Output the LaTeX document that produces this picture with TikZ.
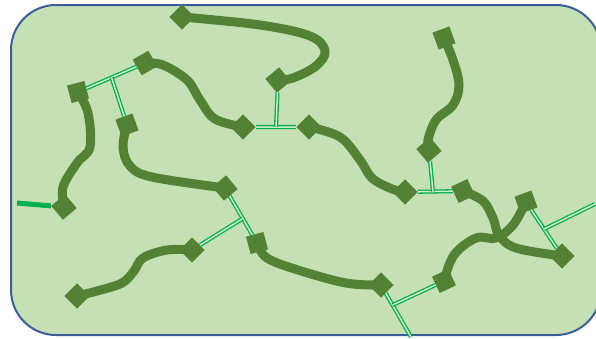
\documentclass[tikz,border=0pt]{standalone}
\usetikzlibrary{positioning, calc}
\definecolor{gelbg}{HTML}{C5E0B4}
\definecolor{chaingreen}{HTML}{548235}
\definecolor{linkgreen}{HTML}{00B050}
\definecolor{linkpale}{HTML}{D5EDC8}
\definecolor{edgeblue}{HTML}{3B5E9A}
\tikzset{
  bead/.style={rectangle, fill=chaingreen, minimum size=18pt, inner sep=0pt},
  chain/.style={draw=chaingreen, line width=9pt},
  xlink/.style={draw=linkgreen, double=linkpale, double distance=1.5pt, line width=1.3pt},
}

\begin{document}
\begin{tikzpicture}[x=1pt, y=-1pt]
  \useasboundingbox (0,0) rectangle (596,338);
  \draw[edgeblue, fill=gelbg, line width=2pt, rounded corners=45pt] (11,5) rectangle (601,335);

  % chain ends
  \node[bead, rotate=45] (a1) at (182,17) {};
  \node[bead, rotate=40] (a2) at (278,80) {};
  \node[bead, rotate=30] (b1) at (145,63) {};
  \node[bead, rotate=45] (b2) at (243,127) {};
  \node[bead, rotate=15] (c1) at (78,92) {};
  \node[bead, rotate=40] (c2) at (64,207) {};
  \node[bead, rotate=20] (d1) at (127,125) {};
  \node[bead, rotate=40] (d2) at (225,188) {};
  \node[bead, rotate=45] (e1) at (309,127) {};
  \node[bead, rotate=45] (e2) at (405,192) {};
  \node[bead, rotate=20] (f1) at (444,38) {};
  \node[bead, rotate=40] (f2) at (429,150) {};
  \node[bead, rotate=25] (g1) at (463,191) {};
  \node[bead, rotate=45] (g2) at (562,256) {};
  \node[bead, rotate=20] (h1) at (526,202) {};
  \node[bead, rotate=25] (h2) at (444,281) {};
  \node[bead, rotate=15] (i1) at (257,243) {};
  \node[bead, rotate=45] (i2) at (381,285) {};
  \node[bead, rotate=45] (j1) at (192,250) {};
  \node[bead, rotate=45] (j2) at (77,296) {};
  \coordinate (tip5) at (411,337);
  \coordinate (tip6) at (595,204);
  \coordinate (stub) at (17,203);

  % chains
  \draw[chain] plot[smooth, tension=0.6] coordinates {(a1.center) (260,25) (310,36) (325,51) (316,66) (293,78) (a2.center)};
  \draw[chain] plot[smooth, tension=0.6] coordinates {(b1.center) (163,65) (187,80) (200,100) (215,119) (b2.center)};
  \draw[chain] plot[smooth, tension=0.6] coordinates {(c1.center) (88,113) (90,147) (77,163) (63,187) (c2.center)};
  \draw[chain] plot[smooth, tension=0.6] coordinates {(d1.center) (123,147) (130,166) (152,177) (d2.center)};
  \draw[chain] plot[smooth, tension=0.6] coordinates {(e1.center) (340,137) (360,160) (372,178) (392,189) (e2.center)};
  \draw[chain] plot[smooth, tension=0.6] coordinates {(f1.center) (453,60) (459,85) (453,105) (436,120) (428,140) (f2.center)};
  \draw[chain] plot[smooth, tension=0.6] coordinates {(g1.center) (483,201) (493,218) (499,235) (516,248) (g2.center)};
  \draw[chain] plot[smooth, tension=0.6] coordinates {(h1.center) (513,225) (496,238) (476,238) (454,255) (h2.center)};
  \draw[chain] plot[smooth, tension=0.6] coordinates {(i1.center) (267,258) (298,270) (346,283) (i2.center)};
  \draw[chain] plot[smooth, tension=0.6] coordinates {(j1.center) (167,250) (143,258) (134,271) (122,283) (97,291) (j2.center)};

  % crosslinks
  \draw[xlink] (c1) -- coordinate[pos=0.5] (t1) (b1);
  \draw[xlink] (t1) -- (d1);
  \draw[xlink] (b2) -- coordinate[pos=0.5] (t2) (e1);
  \draw[xlink] (t2) -- (a2);
  \draw[xlink] (e2) -- coordinate[pos=0.43] (t3) (g1);
  \draw[xlink] (t3) -- (f2);
  \draw[xlink] (d2) -- coordinate[pos=0.58] (t4) (i1);
  \draw[xlink] (t4) -- (j1);
  \draw[xlink] (i2) -- coordinate[pos=0.27] (t5) (tip5);
  \draw[xlink] (t5) -- (h2);
  \draw[xlink] (h1) -- coordinate[pos=0.5] (t6) (g2);
  \draw[xlink] (t6) -- (tip6);
  \draw[linkgreen, line width=5pt] (c2) -- (stub);
\end{tikzpicture}
\end{document}
